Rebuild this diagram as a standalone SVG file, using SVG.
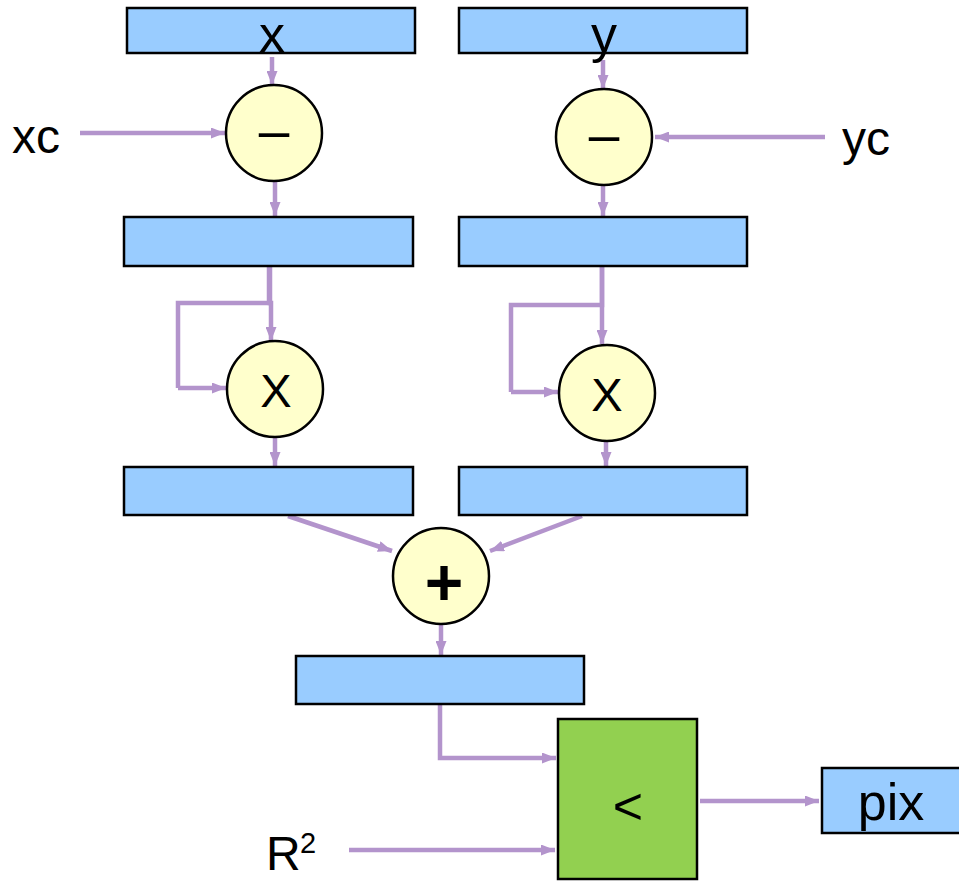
<svg xmlns="http://www.w3.org/2000/svg" width="959" height="881" viewBox="0 0 959 881">
<defs>
<style>
.reg{fill:#99CCFF;stroke:#000;stroke-width:2.5}
.op{fill:#FFFFCC;stroke:#000;stroke-width:2.5}
.cmp{fill:#92D050;stroke:#000;stroke-width:2.5}
.t{font-family:"Liberation Sans",Arial,sans-serif;fill:#000}
.w{stroke:#B394CC;stroke-width:4.5;fill:none;marker-end:url(#ah)}
.wn{stroke:#B394CC;stroke-width:4.5;fill:none}
</style>
<marker id="ah" markerUnits="userSpaceOnUse" markerWidth="14" markerHeight="11" refX="14" refY="5.5" orient="auto">
<path d="M0,0 L14,5.5 L0,11 z" fill="#B394CC"/>
</marker>
</defs>
<rect width="959" height="881" fill="#fff"/>
<g id="connectors">
<line class="w" x1="272" y1="57" x2="272" y2="85"/>
<line class="w" x1="80" y1="133" x2="225" y2="133"/>
<line class="w" x1="603" y1="60" x2="603" y2="89"/>
<line class="w" x1="825" y1="137" x2="655" y2="137"/>
<line class="w" x1="275" y1="182" x2="275" y2="216"/>
<line class="w" x1="603" y1="186" x2="603" y2="216"/>
<polyline class="wn" points="269,266 269,303 178,303 178,388"/>
<line class="w" x1="178" y1="388" x2="226" y2="388"/>
<polyline class="w" points="270,266 270,303 271,303 271,341"/>
<polyline class="wn" points="602,266 602,305 511,305 511,392"/>
<line class="w" x1="511" y1="392" x2="558" y2="392"/>
<line class="w" x1="602" y1="266" x2="602" y2="344"/>
<line class="w" x1="275" y1="437" x2="275" y2="466"/>
<line class="w" x1="606" y1="442" x2="606" y2="466"/>
<line class="w" x1="288" y1="516" x2="392" y2="551"/>
<line class="w" x1="582" y1="516" x2="490" y2="551"/>
<line class="w" x1="441" y1="624" x2="441" y2="655"/>
<polyline class="w" points="440,704 440,758 556,758"/>
<line class="w" x1="349" y1="850" x2="555" y2="850"/>
<line class="w" x1="700" y1="801" x2="819" y2="801"/>
</g>
<g id="reg-x"><rect class="reg" x="127" y="8" width="288" height="45"/><text class="t" x="272" y="52" font-size="52" text-anchor="middle">x</text></g>
<g id="reg-y"><rect class="reg" x="459" y="8" width="288" height="45"/><text class="t" x="604" y="52" font-size="52" text-anchor="middle">y</text></g>
<g id="label-xc"><text class="t" x="12" y="153" font-size="48">xc</text></g>
<g id="label-yc"><text class="t" x="842" y="155" font-size="48">yc</text></g>
<g id="sub-x"><circle class="op" cx="274" cy="133" r="48"/><text class="t" x="274" y="149" font-size="55" text-anchor="middle">–</text></g>
<g id="sub-y"><circle class="op" cx="604" cy="137" r="48"/><text class="t" x="604" y="153" font-size="55" text-anchor="middle">–</text></g>
<g id="reg-dx"><rect class="reg" x="124" y="217" width="289" height="49"/></g>
<g id="reg-dy"><rect class="reg" x="459" y="217" width="288" height="49"/></g>
<g id="mul-x"><circle class="op" cx="275" cy="389" r="48"/><text class="t" x="276" y="407" font-size="47" text-anchor="middle">X</text></g>
<g id="mul-y"><circle class="op" cx="607" cy="393" r="48"/><text class="t" x="607" y="411" font-size="47" text-anchor="middle">X</text></g>
<g id="reg-dx2"><rect class="reg" x="124" y="467" width="289" height="48"/></g>
<g id="reg-dy2"><rect class="reg" x="459" y="467" width="288" height="48"/></g>
<g id="add"><circle class="op" cx="441" cy="576" r="48"/><text class="t" x="444" y="605" font-size="66" font-weight="bold" text-anchor="middle">+</text></g>
<g id="reg-sum"><rect class="reg" x="296" y="656" width="288" height="48"/></g>
<g id="label-r2"><text class="t" x="266" y="870" font-size="48">R</text><text class="t" x="300" y="853" font-size="29">2</text></g>
<g id="compare"><rect class="cmp" x="558" y="719" width="139" height="160"/><text class="t" x="628" y="824" font-size="52" text-anchor="middle">&lt;</text></g>
<g id="pix"><rect class="reg" x="822" y="768" width="140" height="65"/><text class="t" x="891" y="820" font-size="52" text-anchor="middle">pix</text></g>
</svg>
